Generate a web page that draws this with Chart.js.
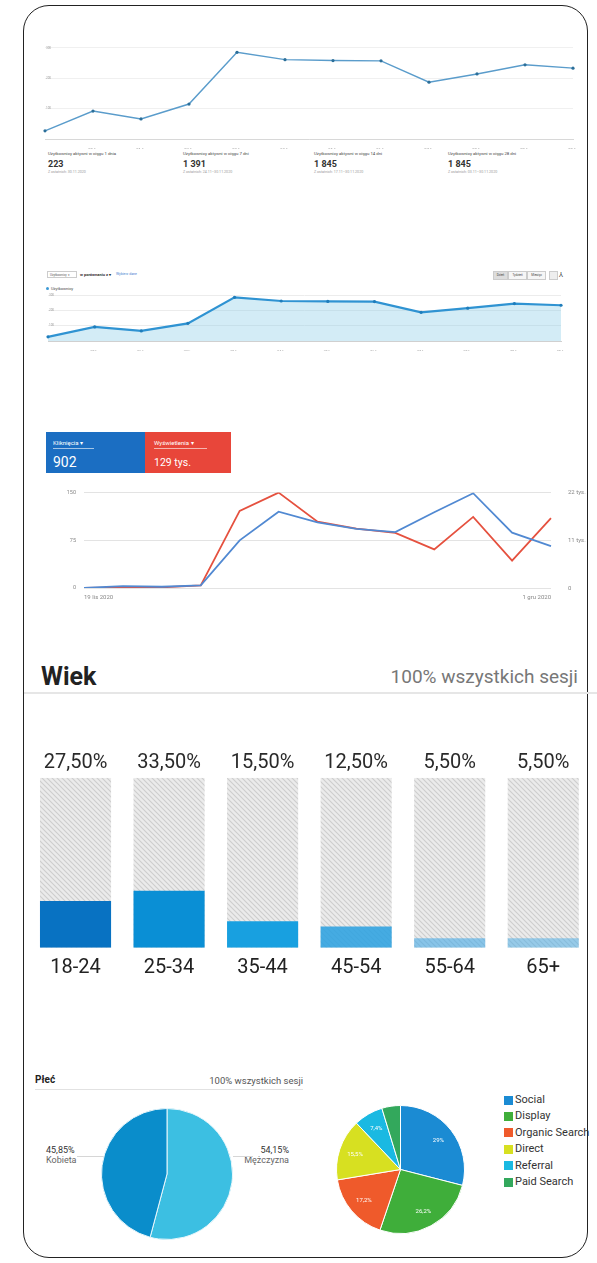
<!DOCTYPE html>
<html>
<head>
<meta charset="utf-8">
<script src="https://cdn.jsdelivr.net/npm/chart.js@4.4.1/dist/chart.umd.min.js"></script>
<style>
  body { margin:0; width:597px; height:1263px; background:#fff; position:relative; overflow:hidden; font-family:Roboto, sans-serif; }
  .abs { position:absolute; white-space:nowrap; }
  canvas { position:absolute; }
  .frame { position:absolute; left:23px; top:5px; width:563px; height:1251px; border:1.5px solid #222; border-radius:26px; }
  .sumT { font-size:4.3px; color:#444; }
  .sumV { font-size:9px; font-weight:700; color:#333; }
  .sumS { font-size:3.6px; color:#999; }
  .btn { position:absolute; top:271px; height:7px; border:1px solid #ccc; font-size:3px; line-height:7px; text-align:center; color:#444; background:#f6f6f6; }
  .leg { position:absolute; left:504px; font-size:11px; color:#333; line-height:12px; white-space:nowrap; }
  .leg i { position:absolute; left:0; top:1.5px; width:9px; height:9px; }
  .leg span { position:absolute; left:11px; top:0; white-space:nowrap; }
</style>
</head>
<body>
<div class="frame"></div>

<canvas id="c1" width="540" height="109" style="left:40px;top:40px"></canvas>

<div class="abs sumT" style="left:48px;top:151px">Użytkownicy aktywni w ciągu 1 dnia</div>
<div class="abs sumV" style="left:48px;top:159px">223</div>
<div class="abs sumS" style="left:48px;top:170px">Z ostatnich: 30.11.2020</div>
<div class="abs sumT" style="left:183px;top:151px">Użytkownicy aktywni w ciągu 7 dni</div>
<div class="abs sumV" style="left:183px;top:159px">1 391</div>
<div class="abs sumS" style="left:183px;top:170px">Z ostatnich: 24.11–30.11.2020</div>
<div class="abs sumT" style="left:314px;top:151px">Użytkownicy aktywni w ciągu 14 dni</div>
<div class="abs sumV" style="left:314px;top:159px">1 845</div>
<div class="abs sumS" style="left:314px;top:170px">Z ostatnich: 17.11–30.11.2020</div>
<div class="abs sumT" style="left:448px;top:151px">Użytkownicy aktywni w ciągu 28 dni</div>
<div class="abs sumV" style="left:448px;top:159px">1 845</div>
<div class="abs sumS" style="left:448px;top:170px">Z ostatnich: 03.11–30.11.2020</div>

<!-- chart 2 header -->
<div class="abs" style="left:47px;top:271px;width:30px;height:7px;border:1px solid #ccc;font-size:3px;line-height:7px;color:#555;padding-left:2px;box-sizing:border-box">Użytkownicy&nbsp;&nbsp;▾</div>
<div class="abs" style="left:80px;top:272px;font-size:4px;font-weight:700;color:#333">w porównaniu z ▾</div>
<div class="abs" style="left:116px;top:272px;font-size:3.5px;color:#4a7fd0">Wybierz dane</div>
<div class="abs" style="left:46px;top:287px;width:3px;height:3px;border-radius:50%;background:#3c9ad6"></div>
<div class="abs" style="left:51px;top:286px;font-size:4px;color:#444">Użytkownicy</div>
<div class="btn" style="left:493px;width:13px;background:#ddd">Dzień</div>
<div class="btn" style="left:508px;width:17px">Tydzień</div>
<div class="btn" style="left:527px;width:17px">Miesiąc</div>
<div class="abs" style="left:549px;top:271px;width:7px;height:7px;border:1px solid #ccc;background:#eee"></div>
<div class="abs" style="left:559px;top:270px;font-size:7px;color:#333">⅄</div>

<canvas id="c2" width="540" height="66" style="left:40px;top:285px"></canvas>

<!-- chart 3 header -->
<div class="abs" style="left:46px;top:432px;width:99px;height:41px;background:#1b6ec2"></div>
<div class="abs" style="left:145px;top:432px;width:86px;height:41px;background:#e8463a"></div>
<div class="abs" style="left:53px;top:439px;font-size:6px;color:#fff">Kliknięcia ▾</div>
<div class="abs" style="left:53px;top:448px;width:41px;height:1px;background:rgba(255,255,255,0.6)"></div>
<div class="abs" style="left:53px;top:454px;font-size:14px;color:#fff">902</div>
<div class="abs" style="left:154px;top:439px;font-size:6px;color:#fff">Wyświetlenia ▾</div>
<div class="abs" style="left:154px;top:448px;width:53px;height:1px;background:rgba(255,255,255,0.6)"></div>
<div class="abs" style="left:154px;top:456px;font-size:10.5px;color:#fff">129 tys.</div>

<canvas id="c3" width="557" height="123" style="left:40px;top:480px"></canvas>

<!-- Wiek -->
<div class="abs" style="left:41px;top:662px;font-size:25px;font-weight:700;color:#222">Wiek</div>
<div class="abs" style="right:19px;top:665px;font-size:19px;color:#777">100% wszystkich sesji</div>
<div class="abs" style="left:24px;top:692px;width:573px;height:2px;background:#e6e6e6"></div>

<canvas id="age" width="573" height="243" style="left:24px;top:740px"></canvas>

<!-- Płeć -->
<div class="abs" style="left:35px;top:1074px;font-size:10px;font-weight:700;color:#222">Płeć</div>
<div class="abs" style="right:294px;top:1075px;font-size:9.5px;color:#555">100% wszystkich sesji</div>
<div class="abs" style="left:35px;top:1089px;width:268px;height:1px;background:#e2e2e2"></div>
<div class="abs" style="left:46px;top:1146px;font-size:9px;line-height:9.5px;color:#333">45,85%<br><span style="color:#666">Kobieta</span></div>
<div class="abs" style="right:308px;top:1146px;font-size:9px;line-height:9.5px;color:#333;text-align:right">54,15%<br><span style="color:#666">Mężczyzna</span></div>
<div class="abs" style="left:77px;top:1156px;width:33px;height:1px;background:#d6d6d6"></div>
<div class="abs" style="left:233px;top:1156px;width:20px;height:1px;background:#d6d6d6"></div>

<canvas id="g" width="132" height="132" style="left:101px;top:1108px"></canvas>
<canvas id="t" width="129" height="129" style="left:336px;top:1105px"></canvas>
<div id="legend"></div>

<script>
// ---------- data ----------
const days = ["19 lis","20 lis","21 lis","22 lis","23 lis","24 lis","25 lis","26 lis","27 lis","28 lis","29 lis","30 lis"];
const users = [27, 92, 66, 115, 285, 261, 258, 257, 187, 214, 244, 233];

const days3 = ["19 lis 2020","20 lis 2020","21 lis 2020","22 lis 2020","23 lis 2020","24 lis 2020","25 lis 2020","26 lis 2020","27 lis 2020","28 lis 2020","29 lis 2020","30 lis 2020","1 gru 2020"];
const clicks = [0, 3, 2, 4, 75, 120, 103, 93, 88, 119, 149, 87, 66];
const impressions = [0, 150, 150, 600, 17800, 22000, 15300, 13700, 12700, 8900, 16400, 6300, 16100];
const impTicks = {0: "0", 11000: "11 tys.", 22000: "22 tys."};

const ages = ["18-24","25-34","35-44","45-54","55-64","65+"];
const agePct = [27.5, 33.5, 15.5, 12.5, 5.5, 5.5];
const agePctLabels = ["27,50%","33,50%","15,50%","12,50%","5,50%","5,50%"];
const fullScale = [100, 100, 100, 100, 100, 100];

const genders = ["Mężczyzna","Kobieta"];
const genderPct = [54.15, 45.85];

const channels = ["Social","Display","Organic Search","Direct","Referral","Paid Search"];
const channelPct = [29, 26.2, 17.2, 15.5, 7.4, 4.7];
const channelLabels = ["29%","26,2%","17,2%","15,5%","7,4%",""];
const channelColors = ["#1b8bd3","#3fae3a","#ef5a2b","#d7e021","#1ab9e2","#33a85c"];

Chart.defaults.font.family = "Roboto";
Chart.defaults.animation = false;
Chart.defaults.plugins.legend.display = false;
Chart.defaults.plugins.tooltip.enabled = false;

// ---------- chart 1 ----------
new Chart(document.getElementById("c1"), {
  type: "line",
  data: { labels: days, datasets: [{
    data: users, borderColor: "#5a9ccb", borderWidth: 1.4,
    pointRadius: 1.6, pointBackgroundColor: "#2c6f99", pointBorderWidth: 0, tension: 0
  }]},
  options: {
    responsive: false,
    layout: { padding: { left: 5, right: 7, top: 7.8, bottom: 0 } },
    scales: {
      x: { grid: { display: false }, border: { color: "#d8d8d8" },
           ticks: { font: { size: 4 }, color: "#888", padding: 1, autoSkip: false, maxRotation: 0,
                    callback: (v, i) => i === 0 ? "" : days[i] },
           afterFit: s => { s.height = 10; } },
      y: { min: 0, max: 300, grid: { color: "#f0f0f0", drawTicks: false }, border: { display: false },
           ticks: { stepSize: 100, mirror: true, padding: 1, font: { size: 3 }, color: "#999",
                    callback: v => v === 0 ? "" : v },
           afterFit: s => { s.width = 0; } }
    }
  }
});

// ---------- chart 2 ----------
new Chart(document.getElementById("c2"), {
  type: "line",
  data: { labels: days, datasets: [{
    data: users, borderColor: "#2f93d2", borderWidth: 2.2, fill: true,
    backgroundColor: "rgba(140,205,232,0.38)",
    pointRadius: 1.6, pointBackgroundColor: "#1f7dbb", pointBorderWidth: 0, tension: 0
  }]},
  options: {
    responsive: false,
    layout: { padding: { left: 8, right: 19, top: 10, bottom: 0 } },
    scales: {
      x: { grid: { display: false }, border: { color: "#d0d0d0" },
           ticks: { font: { size: 3.5 }, color: "#888", padding: 1, autoSkip: false, maxRotation: 0,
                    callback: (v, i) => i === 0 ? "" : days[i] },
           afterFit: s => { s.height = 10; } },
      y: { min: 0, max: 300, grid: { color: "#ececec", drawTicks: false }, border: { display: false },
           ticks: { stepSize: 100, mirror: true, padding: 1, font: { size: 3 }, color: "#999",
                    callback: v => v === 0 ? "" : v },
           afterFit: s => { s.width = 0; } }
    }
  }
});

// ---------- chart 3 ----------
const edgeDates = {
  id: "edgeDates",
  afterDraw(chart) {
    const ctx = chart.ctx, x = chart.scales.x, y = chart.chartArea.bottom + 9.5;
    ctx.save();
    ctx.font = "6px Roboto";
    ctx.fillStyle = "#888";
    ctx.textBaseline = "middle";
    ctx.textAlign = "left";
    ctx.fillText(days3[0], x.getPixelForValue(0), y);
    ctx.textAlign = "right";
    ctx.fillText(days3[days3.length - 1], x.getPixelForValue(days3.length - 1), y);
    ctx.restore();
  }
};

new Chart(document.getElementById("c3"), {
  type: "line",
  data: { labels: days3, datasets: [
    { data: clicks, yAxisID: "y", borderColor: "#5189d2", borderWidth: 1.8, pointRadius: 0, tension: 0 },
    { data: impressions, yAxisID: "y1", borderColor: "#e5513f", borderWidth: 1.8, pointRadius: 0, tension: 0 }
  ]},
  options: {
    responsive: false,
    layout: { padding: { left: 0, right: 0, top: 11.7, bottom: 15 } },
    scales: {
      x: { display: false },
      y: { position: "left", min: 0, max: 150,
           grid: { color: "#e3e3e3", drawTicks: false }, border: { display: false },
           ticks: { stepSize: 75, padding: 8, font: { size: 5.5 }, color: "#888" },
           afterFit: s => { s.width = 44; } },
      y1: { position: "right", min: 0, max: 22000,
            grid: { display: false }, border: { display: false },
            ticks: { stepSize: 11000, padding: 9, font: { size: 6 }, color: "#888",
                     callback: v => impTicks[v] },
            afterFit: s => { s.width = 46; } }
    }
  },
  plugins: [edgeDates]
});

// ---------- Wiek ----------
const ageCanvas = document.getElementById("age");
function hatch() {
  const c = document.createElement("canvas");
  c.width = 5; c.height = 5;
  const g = c.getContext("2d");
  g.fillStyle = "#ebebeb";
  g.fillRect(0, 0, 5, 5);
  g.strokeStyle = "#cdcdcd";
  g.lineWidth = 1.1;
  g.beginPath();
  g.moveTo(-1, -1); g.lineTo(6, 6);
  g.moveTo(-1, 4); g.lineTo(1, 6);
  g.moveTo(4, -1); g.lineTo(6, 1);
  g.stroke();
  return ageCanvas.getContext("2d").createPattern(c, "repeat");
}

new Chart(ageCanvas, {
  type: "bar",
  data: { labels: ages, datasets: [
    { data: agePct, grouped: false,
      backgroundColor: ["#0872c2","#0a8fd5","#18a0e0","rgba(40,160,225,0.85)","rgba(70,170,230,0.6)","rgba(80,175,230,0.55)"] },
    { data: fullScale, grouped: false, backgroundColor: hatch() }
  ]},
  options: {
    responsive: false,
    barPercentage: 0.76, categoryPercentage: 1,
    layout: { padding: { left: 4.75, right: 7, top: 0, bottom: 0 } },
    scales: {
      x: { grid: { display: false }, border: { display: false },
           ticks: { font: { size: 20 }, color: "#222", padding: 0 },
           afterFit: s => { s.height = 35.3; } },
      x2: { type: "category", position: "top", labels: agePctLabels, offset: true,
            grid: { display: false }, border: { display: false },
            ticks: { font: { size: 20 }, color: "#2a2a2a", padding: -5 },
            afterFit: s => { s.height = 37.7; } },
      y: { display: false, min: 0, max: 100 }
    }
  }
});

// ---------- Płeć ----------
new Chart(document.getElementById("g"), {
  type: "pie",
  data: { labels: genders, datasets: [{
    data: genderPct, backgroundColor: ["#3cbfe2","#0a8dcb"],
    borderColor: "#e8f6fb", borderWidth: 1, hoverOffset: 0
  }]},
  options: { responsive: false, layout: { padding: 0 } }
});

// ---------- traffic sources ----------
const sliceText = {
  id: "sliceText",
  afterDatasetsDraw(chart) {
    const ctx = chart.ctx;
    ctx.save();
    ctx.font = "6px Roboto";
    ctx.fillStyle = "#fff";
    ctx.textAlign = "center";
    ctx.textBaseline = "middle";
    chart.getDatasetMeta(0).data.forEach((arc, i) => {
      if (!channelLabels[i]) return;
      const a = (arc.startAngle + arc.endAngle) / 2, r = arc.outerRadius * 0.75;
      ctx.fillText(channelLabels[i], arc.x + Math.cos(a) * r, arc.y + Math.sin(a) * r);
    });
    ctx.restore();
  }
};

new Chart(document.getElementById("t"), {
  type: "pie",
  data: { labels: channels, datasets: [{
    data: channelPct, backgroundColor: channelColors,
    borderColor: "#fff", borderWidth: 1, hoverOffset: 0
  }]},
  options: { responsive: false, layout: { padding: 0 } },
  plugins: [sliceText]
});

// legend
const legend = document.getElementById("legend");
channels.forEach((name, i) => {
  const d = document.createElement("div");
  d.className = "leg";
  d.style.top = (1094 + i * 16.4) + "px";
  d.innerHTML = '<i style="background:' + channelColors[i] + '"></i><span>' + name + '</span>';
  legend.appendChild(d);
});
</script>
</body>
</html>
